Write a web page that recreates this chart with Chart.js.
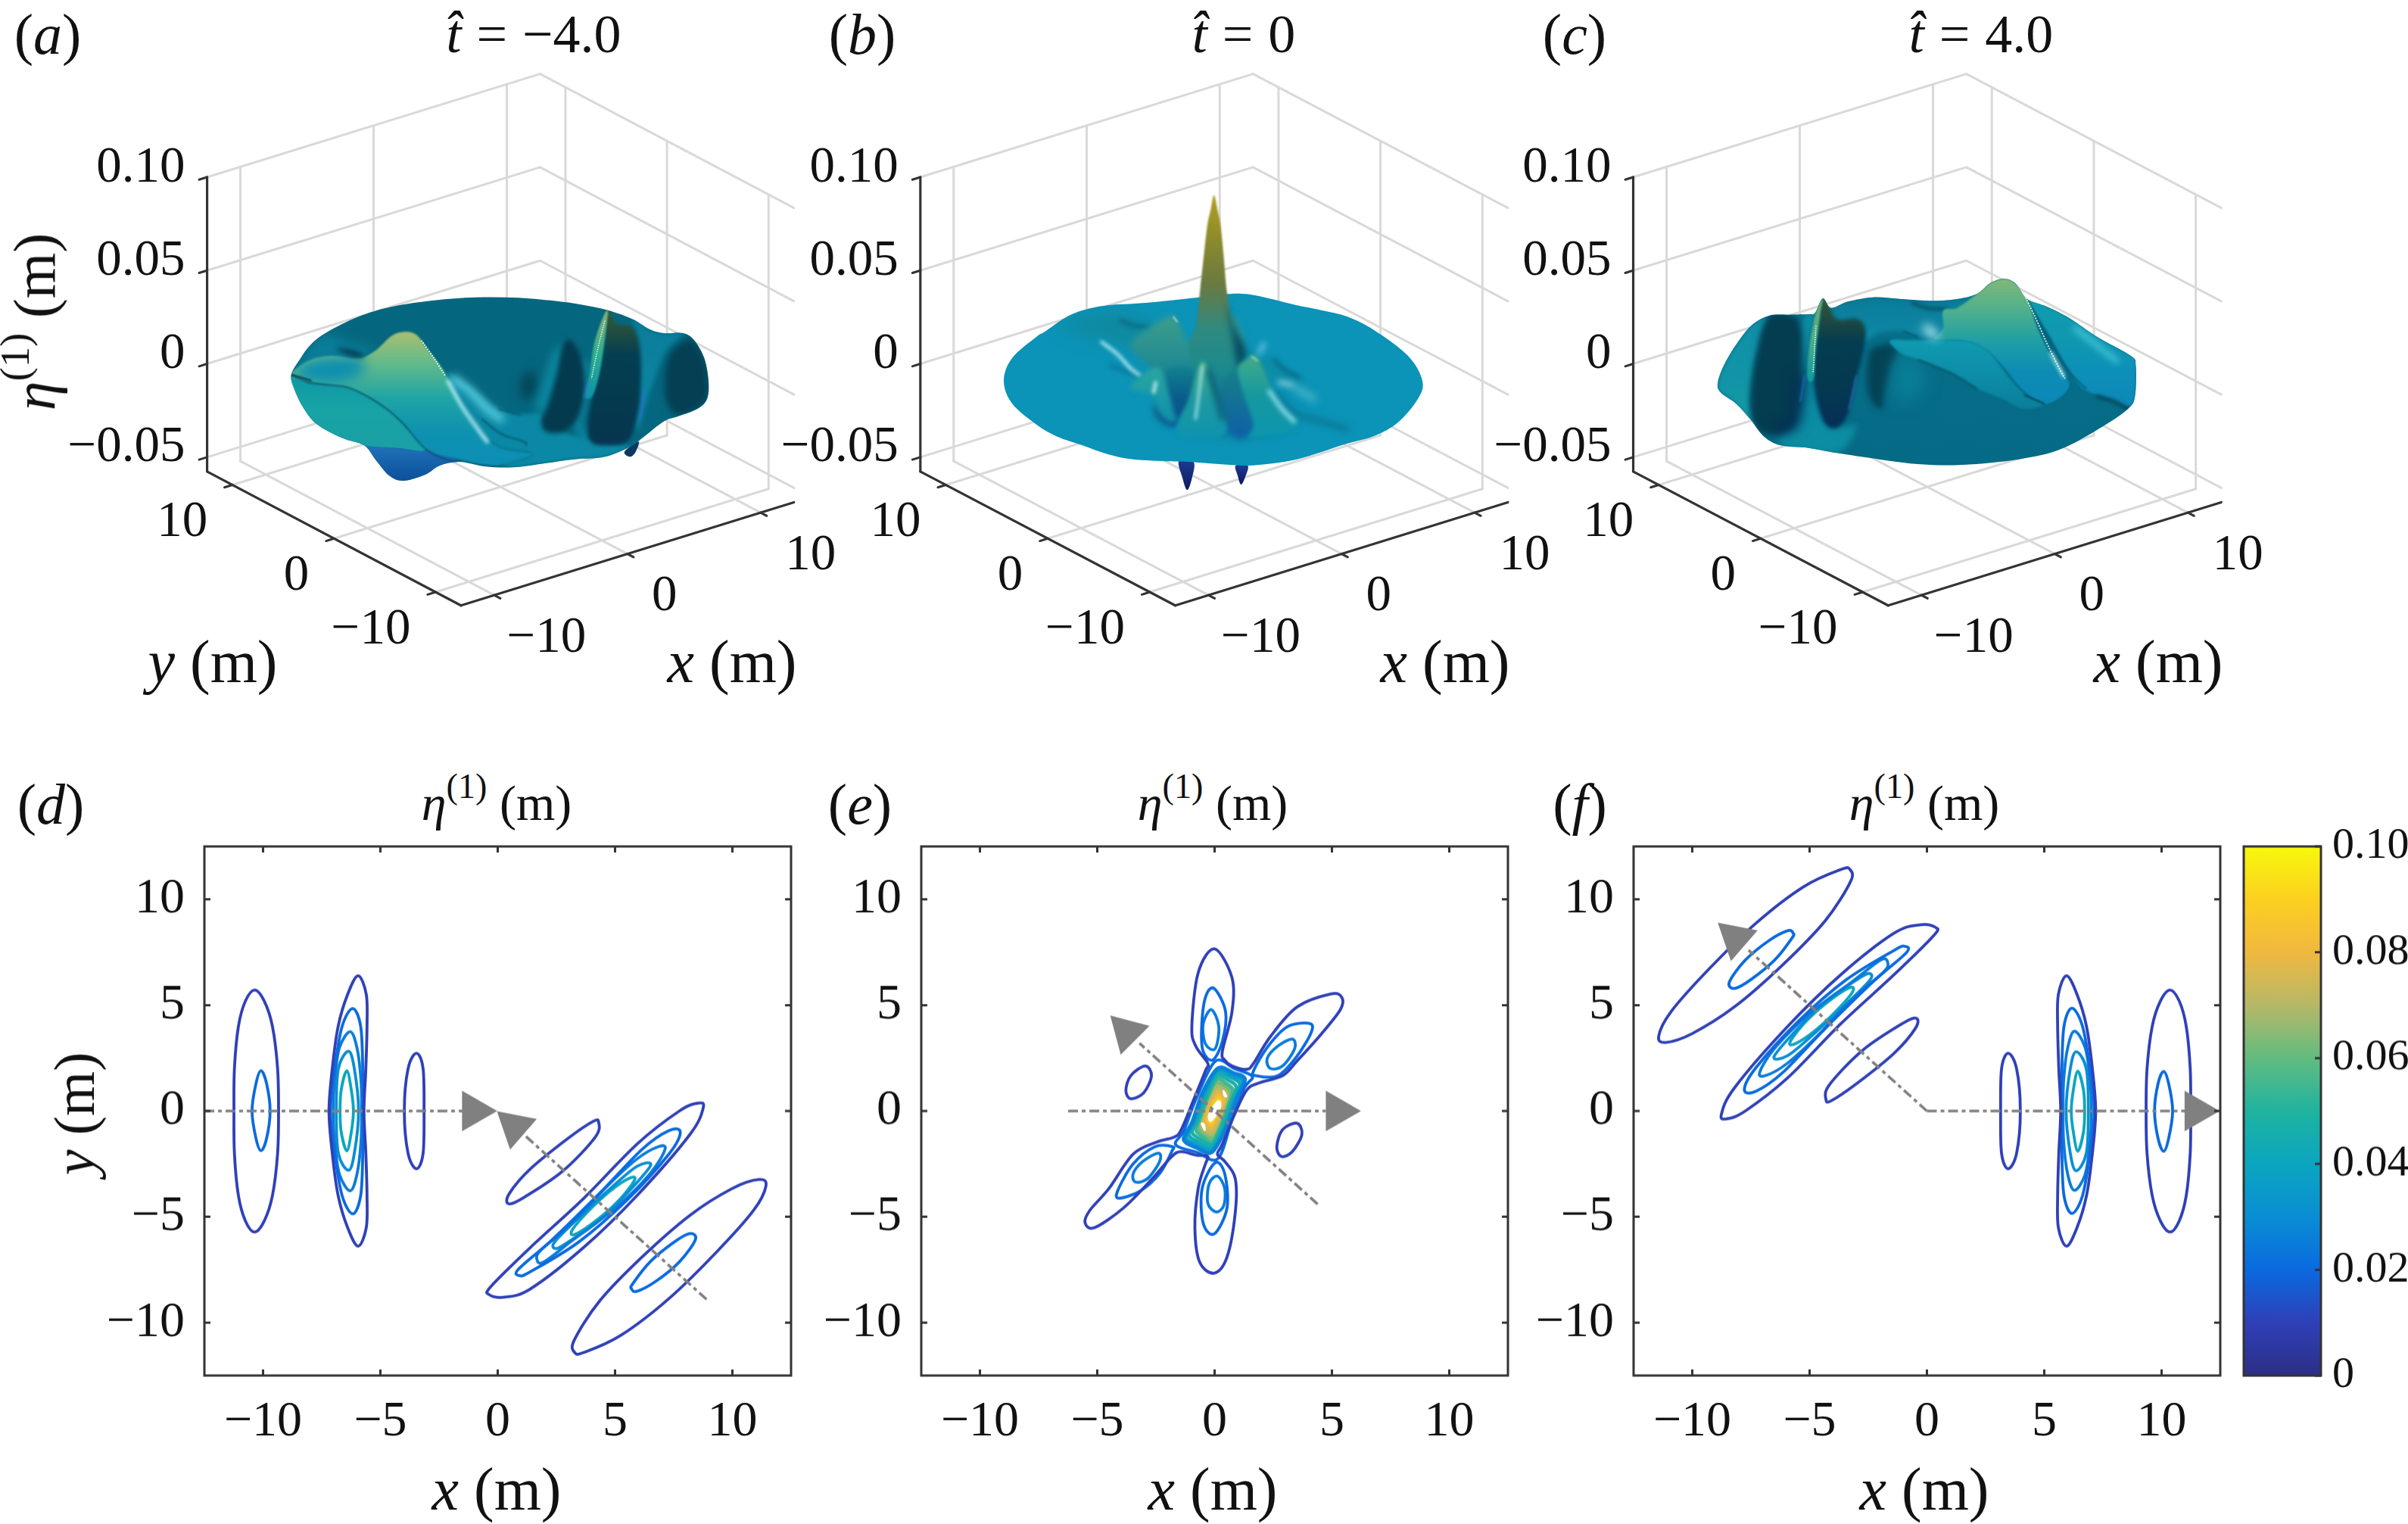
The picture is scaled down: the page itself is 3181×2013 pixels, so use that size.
<!DOCTYPE html>
<html>
<head>
<meta charset="utf-8">
<script src="https://cdn.jsdelivr.net/npm/chart.js@4"></script>
<style>
html,body{margin:0;padding:0;background:#fff;}
#page{position:relative;width:3181px;height:2013px;overflow:hidden;}
canvas{position:absolute;}
.t{position:absolute;white-space:nowrap;line-height:1;color:#111;font-family:"Liberation Serif",serif;transform:translate(-50%,-50%);}
.t sup{font-size:.7em;line-height:0;vertical-align:.62em;}
</style>
</head>
<body>
<div id="page"></div>
<script>
// ---------- axes ----------
const planTicks = [-10, -5, 0, 5, 10];
const planLimit = [-12.5, 12.5];
const boxTicksXY = [-10, 0, 10];
const boxTicksZ = [-0.05, 0, 0.05, 0.10];
const boxZLabels = ['\u22120.05', '0', '0.05', '0.10'];
const boxXYLabels = ['\u221210', '0', '10'];
const barTicks = [0, 0.02, 0.04, 0.06, 0.08, 0.10];
const barLabels = ['0', '0.02', '0.04', '0.06', '0.08', '0.10'];
const barRange = [0, 0.10];
// colour bar read every 0.01
const parula = ['#2c2f86','#2f40b8','#0a6ae0','#0a8ed4','#0aa6c0','#20b3a0','#62bc80','#b6b868','#f0b840','#fcd020','#f8f80c'];

// ---------- contours of panel d, metres ----------
const dA1 = [[-10.36,5.72],[-9.95,5.2],[-9.6,4],[-9.38,2],[-9.34,0],[-9.38,-2],[-9.6,-4],[-9.95,-5.2],[-10.36,-5.72],[-10.75,-5.2],[-11.05,-4],[-11.22,-2],[-11.24,0],[-11.22,2],[-11.05,4],[-10.75,5.2]];
const dA2 = [[-10.09,1.9],[-9.85,1.3],[-9.7,0],[-9.85,-1.3],[-10.09,-1.87],[-10.3,-1.3],[-10.47,0],[-10.3,1.3]];
const dB1 = [[-5.95,6.39],[-5.6,5.5],[-5.57,4],[-5.62,2],[-5.7,0],[-5.62,-2],[-5.57,-4],[-5.6,-5.5],[-5.95,-6.39],[-6.4,-5.5],[-6.8,-4],[-7.05,-2],[-7.19,0],[-7.05,2],[-6.8,4],[-6.4,5.5]];
const dB2 = [[-6.18,4.84],[-5.84,4],[-5.75,2],[-5.73,0],[-5.75,-2],[-5.84,-4],[-6.18,-4.86],[-6.63,-4],[-6.95,-2],[-7.13,0],[-6.95,2],[-6.63,4]];
const dB3 = [[-6.29,3.75],[-6,3],[-5.83,1.5],[-5.8,0],[-5.83,-1.5],[-6,-3],[-6.29,-3.77],[-6.74,-3],[-6.95,-1.5],[-7.01,0],[-6.95,1.5],[-6.74,3]];
const dB4 = [[-6.36,2.82],[-6.11,2],[-5.93,0],[-6.11,-2],[-6.36,-2.8],[-6.79,-2],[-6.88,0],[-6.79,2]];
const dB5 = [[-6.43,1.9],[-6.24,1],[-6.15,0],[-6.24,-1],[-6.43,-1.88],[-6.67,-1],[-6.72,0],[-6.67,1]];
const dC1 = [[-3.46,2.73],[-3.18,2],[-3.14,0],[-3.18,-2],[-3.46,-2.73],[-3.82,-2],[-3.98,0],[-3.82,2]];
const dD1 = [[4.3,-0.53],[4.16,-1.23],[2.76,-2.85],[1.06,-4.12],[0.45,-4.38],[0.5,-3.89],[1.4,-2.73],[2.99,-1.3],[4.07,-0.49]];
const dE1 = [[8.76,0.16],[8.19,-1.11],[5.93,-4],[3.67,-6.44],[1.4,-8.4],[0.27,-8.8],[-0.36,-8.68],[-0.29,-8.29],[1.4,-6.44],[3.67,-4.12],[5.93,-1.57],[7.74,0],[8.54,0.37]];
const dE2 = [[7.78,-1],[7.29,-2.04],[5.48,-4.24],[3.44,-6.2],[1.4,-7.59],[0.95,-7.78],[0.88,-7.48],[2.31,-6.09],[4.34,-3.89],[6.15,-1.81],[7.29,-0.93]];
const dE3 = [[7.13,-1.81],[6.49,-2.96],[5.02,-4.58],[3.21,-6.09],[1.97,-7.13],[1.67,-7.01],[1.86,-6.55],[3.21,-5.28],[4.57,-3.66],[5.93,-2.27],[6.83,-1.69]];
const dE4 = [[6.52,-2.55],[5.7,-3.66],[4.34,-5.16],[2.99,-6.2],[2.49,-6.5],[2.42,-6.2],[3.44,-5.05],[4.8,-3.66],[5.93,-2.62]];
const dE5 = [[5.84,-3.24],[5.25,-4.12],[4.34,-5.05],[3.33,-5.81],[3.17,-5.63],[3.89,-4.7],[4.8,-3.77],[5.59,-3.19]];
const dF1 = [[11.43,-3.54],[10.9,-4.7],[9.32,-6.67],[7.29,-8.87],[5.25,-10.6],[3.67,-11.41],[3.28,-11.41],[3.26,-10.83],[4.34,-8.98],[6.15,-6.9],[8.19,-4.93],[10,-3.66],[11.13,-3.24]];
const dF2 = [[8.42,-6.09],[7.74,-7.13],[6.72,-8.06],[5.93,-8.52],[5.7,-8.4],[5.75,-8.17],[6.49,-7.13],[7.51,-6.2],[8.19,-5.79]];

// ---------- contours of panel f, metres ----------
const fA1 = [[10.36,-5.72],[9.95,-5.2],[9.6,-4],[9.38,-2],[9.34,0],[9.38,2],[9.6,4],[9.95,5.2],[10.36,5.72],[10.75,5.2],[11.05,4],[11.22,2],[11.24,0],[11.22,-2],[11.05,-4],[10.75,-5.2]];
const fA2 = [[10.09,-1.9],[9.85,-1.3],[9.7,0],[9.85,1.3],[10.09,1.87],[10.3,1.3],[10.47,0],[10.3,-1.3]];
const fB1 = [[5.95,-6.39],[5.6,-5.5],[5.57,-4],[5.62,-2],[5.7,0],[5.62,2],[5.57,4],[5.6,5.5],[5.95,6.39],[6.4,5.5],[6.8,4],[7.05,2],[7.19,0],[7.05,-2],[6.8,-4],[6.4,-5.5]];
const fB2 = [[6.18,-4.84],[5.84,-4],[5.75,-2],[5.73,0],[5.75,2],[5.84,4],[6.18,4.86],[6.63,4],[6.95,2],[7.13,0],[6.95,-2],[6.63,-4]];
const fB3 = [[6.29,-3.75],[6,-3],[5.83,-1.5],[5.8,0],[5.83,1.5],[6,3],[6.29,3.77],[6.74,3],[6.95,1.5],[7.01,0],[6.95,-1.5],[6.74,-3]];
const fB4 = [[6.36,-2.82],[6.11,-2],[5.93,0],[6.11,2],[6.36,2.8],[6.79,2],[6.88,0],[6.79,-2]];
const fB5 = [[6.43,-1.9],[6.24,-1],[6.15,0],[6.24,1],[6.43,1.88],[6.67,1],[6.72,0],[6.67,-1]];
const fC1 = [[3.46,-2.73],[3.18,-2],[3.14,0],[3.18,2],[3.46,2.73],[3.82,2],[3.98,0],[3.82,-2]];
const fD1 = [[-4.3,0.53],[-4.16,1.23],[-2.76,2.85],[-1.06,4.12],[-0.45,4.38],[-0.5,3.89],[-1.4,2.73],[-2.99,1.3],[-4.07,0.49]];
const fE1 = [[-8.76,-0.16],[-8.19,1.11],[-5.93,4],[-3.67,6.44],[-1.4,8.4],[-0.27,8.8],[0.36,8.68],[0.29,8.29],[-1.4,6.44],[-3.67,4.12],[-5.93,1.57],[-7.74,0],[-8.54,-0.37]];
const fE2 = [[-7.78,1],[-7.29,2.04],[-5.48,4.24],[-3.44,6.2],[-1.4,7.59],[-0.95,7.78],[-0.88,7.48],[-2.31,6.09],[-4.34,3.89],[-6.15,1.81],[-7.29,0.93]];
const fE3 = [[-7.13,1.81],[-6.49,2.96],[-5.02,4.58],[-3.21,6.09],[-1.97,7.13],[-1.67,7.01],[-1.86,6.55],[-3.21,5.28],[-4.57,3.66],[-5.93,2.27],[-6.83,1.69]];
const fE4 = [[-6.52,2.55],[-5.7,3.66],[-4.34,5.16],[-2.99,6.2],[-2.49,6.5],[-2.42,6.2],[-3.44,5.05],[-4.8,3.66],[-5.93,2.62]];
const fE5 = [[-5.84,3.24],[-5.25,4.12],[-4.34,5.05],[-3.33,5.81],[-3.17,5.63],[-3.89,4.7],[-4.8,3.77],[-5.59,3.19]];
const fF1 = [[-11.43,3.54],[-10.9,4.7],[-9.32,6.67],[-7.29,8.87],[-5.25,10.6],[-3.67,11.41],[-3.28,11.41],[-3.26,10.83],[-4.34,8.98],[-6.15,6.9],[-8.19,4.93],[-10,3.66],[-11.13,3.24]];
const fF2 = [[-8.42,6.09],[-7.74,7.13],[-6.72,8.06],[-5.93,8.52],[-5.7,8.4],[-5.75,8.17],[-6.49,7.13],[-7.51,6.2],[-8.19,5.79]];

// ---------- contours of panel e, metres ----------
const eOuter = [[0,7.66],[0.74,6.3],[0.74,4.68],[0.33,2.82],[0.43,2.41],[0.74,2.13],[1.36,1.97],[1.66,2.25],[2.38,3.52],[3.51,4.91],[4.95,5.53],[5.42,5.37],[5.36,4.79],[4.54,3.63],[3.51,2.36],[2.9,1.67],[1.87,1.32],[1.36,0.97],[0.84,-0.19],[0.33,-1.57],[0.12,-2.04],[0.43,-2.38],[0.88,-3.19],[0.88,-4.81],[0.53,-6.9],[-0.02,-7.66],[-0.64,-7.13],[-0.84,-5.51],[-0.7,-3.66],[-0.39,-2.5],[-0.29,-2.15],[-0.8,-2.08],[-1.42,-1.92],[-1.83,-2.15],[-2.65,-3.19],[-3.88,-4.58],[-5.11,-5.51],[-5.52,-5.28],[-5.32,-4.7],[-4.5,-3.66],[-3.47,-2.04],[-2.44,-1.46],[-1.72,-1.23],[-1.42,-0.88],[-0.9,0.51],[-0.39,1.9],[-0.29,2.25],[-0.8,3.06],[-0.97,3.98],[-0.7,6.53]];
const eSmallL = [[-2.96,2.13],[-2.69,1.67],[-3.02,0.86],[-3.57,0.58],[-3.78,0.97],[-3.57,1.67]];
const eSmallR = [[3.51,-0.58],[3.72,-1.11],[3.31,-1.92],[2.85,-2.15],[2.65,-1.69],[2.9,-0.88]];
const eTop2 = [[-0.02,5.79],[0.47,4.68],[0.33,3.29],[-0.08,2.41],[-0.49,2.82],[-0.55,3.98],[-0.39,5.37]];
const eUR2 = [[4.02,4.14],[4.13,3.75],[3.51,2.59],[2.69,1.67],[1.77,1.67],[1.66,1.9],[2.28,3.06],[3.1,3.98]];
const eBot2 = [[-0.02,-5.81],[-0.49,-5.28],[-0.53,-3.66],[0.02,-2.45],[0.43,-2.96],[0.53,-4.58]];
const eLL2 = [[-4.05,-4.12],[-4.13,-3.77],[-3.47,-2.5],[-2.55,-1.69],[-1.79,-1.69],[-1.83,-1.92],[-2.34,-2.96],[-3.16,-3.77]];
const eTop3 = [[-0.14,4.79],[0.18,3.98],[0.02,2.94],[-0.39,3.17],[-0.49,4.1]];
const eUR3 = [[3.31,3.4],[3.41,2.94],[2.9,2.13],[2.38,2.01],[2.24,2.48],[2.69,3.06]];
const eBot3 = [[0.06,-4.77],[-0.29,-4.35],[-0.23,-3.43],[0.12,-3.08],[0.43,-3.66],[0.39,-4.47]];
const eLL3 = [[-2.4,-1.99],[-2.34,-2.38],[-2.85,-3.19],[-3.37,-3.36],[-3.47,-2.96],[-3.06,-2.38]];
const eCore020 = [[0.03,2.35],[0.85,2],[1.61,1.63],[1.27,1.09],[0.73,-0.46],[0.14,-2.25],[-0.75,-1.95],[-1.66,-1.59],[-1.31,-0.93],[-0.77,0.62]];
const eCore030 = [[0.14,2.02],[0.8,1.8],[1.3,1.5],[0.95,0.6],[0.5,-0.8],[-0.12,-1.95],[-0.75,-1.75],[-1.32,-1.35],[-0.95,-0.5],[-0.5,0.9]];
const eCore035 = [[0.12,1.92],[0.75,1.7],[1.2,1.38],[0.88,0.55],[0.44,-0.8],[-0.1,-1.85],[-0.7,-1.65],[-1.22,-1.25],[-0.88,-0.5],[-0.44,0.85]];
const eCore040 = [[0.1,1.8],[0.68,1.6],[1.08,1.25],[0.8,0.5],[0.38,-0.8],[-0.1,-1.72],[-0.62,-1.52],[-1.1,-1.12],[-0.8,-0.45],[-0.4,0.8]];
const eCore045 = [[0.1,1.65],[0.6,1.45],[0.93,1.12],[0.71,0.45],[0.3,-0.8],[-0.1,-1.58],[-0.55,-1.38],[-0.96,-1],[-0.7,-0.4],[-0.33,0.72]];
const eCore050 = [[0.1,1.5],[0.5,1.3],[0.78,1],[0.63,0.42],[0.26,-0.72],[-0.1,-1.45],[-0.48,-1.25],[-0.8,-0.9],[-0.62,-0.36],[-0.27,0.7]];
const eCore055 = [[0.11,1.35],[0.68,0.92],[0.56,0.1],[0.2,-0.85],[-0.1,-1.32],[-0.7,-0.85],[-0.56,0],[-0.2,0.9]];
const eCore060 = [[0.12,1.2],[0.62,0.85],[0.52,0.1],[0.2,-0.75],[-0.1,-1.2],[-0.62,-0.8],[-0.52,0],[-0.2,0.8]];
const eCore065 = [[0.12,1.07],[0.53,0.75],[0.46,0.1],[0.18,-0.65],[-0.12,-1.05],[-0.55,-0.7],[-0.46,0],[-0.18,0.7]];
const eCore070 = [[0.13,0.95],[0.47,0.65],[0.4,0.1],[0.14,-0.55],[-0.13,-0.92],[-0.47,-0.6],[-0.4,0],[-0.14,0.6]];
const eCore075 = [[0.14,0.82],[0.42,0.55],[0.36,0.1],[0.12,-0.47],[-0.14,-0.8],[-0.42,-0.52],[-0.36,-0.02],[-0.12,0.5]];
const eCore080 = [[0.15,0.72],[0.38,0.47],[0.3,0.1],[0.1,-0.4],[-0.15,-0.7],[-0.36,-0.45],[-0.3,-0.03],[-0.1,0.42]];
const eCore085 = [[0.16,0.6],[0.32,0.38],[0.24,0.1],[0.07,-0.32],[-0.16,-0.58],[-0.3,-0.36],[-0.24,-0.03],[-0.07,0.34]];
const eCore090 = [[0.17,0.42],[0.2,0.2],[0.03,-0.15],[-0.16,-0.42],[-0.2,-0.2],[-0.03,0.15]];
const eSpark1 = [[0.38,0.95],[0.5,0.7],[0.42,0.72]];
const eSpark2 = [[-0.42,-0.9],[-0.55,-0.6],[-0.45,-0.65]];

// line, level
const contoursD = [[dA1,0.01],[dA2,0.02],[dB1,0.01],[dB2,0.02],[dB3,0.025],[dB4,0.03],[dB5,0.04],[dC1,0.01],[dD1,0.01],[dE1,0.01],[dE2,0.02],[dE3,0.025],[dE4,0.03],[dE5,0.04],[dF1,0.01],[dF2,0.02]];
const contoursF = [[fA1,0.01],[fA2,0.02],[fB1,0.01],[fB2,0.02],[fB3,0.025],[fB4,0.03],[fB5,0.04],[fC1,0.01],[fD1,0.01],[fE1,0.01],[fE2,0.02],[fE3,0.025],[fE4,0.03],[fE5,0.04],[fF1,0.01],[fF2,0.02]];
const contoursE = [[eOuter,0.01],[eSmallL,0.01],[eSmallR,0.01],[eTop2,0.02],[eUR2,0.02],[eBot2,0.02],[eLL2,0.02],[eTop3,0.025],[eUR3,0.025],[eBot3,0.025],[eLL3,0.025],[eCore020,0.02],[eCore030,0.026],[eCore035,0.034],[eCore040,0.042],[eCore045,0.048],[eCore050,0.055],[eCore055,0.062],[eCore060,0.068],[eCore065,0.072],[eCore070,0.076],[eCore075,0.08],[eCore080,0.085],[eCore085,0.09]];
const coreLines = [eCore030,eCore035,eCore040,eCore045,eCore050,eCore055,eCore060,eCore065,eCore070,eCore075,eCore080,eCore085];
const sparkLines = [eCore090,eSpark1,eSpark2];

// ---------- group directions, metres ----------
const dGuideH = [[-12.5,0],[-1.5,0]];
const dGuideD = [[8.9,-8.9],[1.0,-1.0]];
const eGuideH = [[-6.24,0],[4.74,0]];
const eGuideD = [[4.39,-4.4],[-3.2,3.2]];
const fGuideH = [[0,0],[11,0]];
const fGuideD = [[0,0],[-7.6,7.6]];
const dHeads = [[-1.02,0],[0.72,-0.74]];
const eHeads = [[5.24,0],[-3.74,3.73]];
const fHeads = [[11.48,0],[-8.16,8.17]];

// ---------- surface outlines, on the hidden picture-plane scales of each 3D box ----------
const aRim = [[40,345],[70,285],[110,225],[170,175],[280,115],[400,75],[550,50],[700,38],[850,40],[1000,55],[1100,72],[1180,92],[1260,125],[1320,165],[1370,180],[1440,180],[1480,210],[1515,280],[1530,370],[1525,440],[1490,480],[1420,510],[1370,530],[1300,590],[1250,630],[1160,670],[1050,680],[950,695],[830,712],[730,708],[640,690],[570,705],[520,740],[440,765],[390,745],[340,680],[300,625],[220,595],[130,540],[80,470],[50,400]];
const aLump = [[300,625],[420,635],[560,650],[640,690],[570,705],[520,740],[440,765],[390,745],[340,680]];
const aHang = [[1230,650],[1280,610],[1270,650],[1250,670]];
const aSkirt = [[40,345],[100,375],[170,385],[240,395],[310,430],[380,480],[440,540],[520,640],[420,635],[300,625],[220,595],[130,540],[80,470],[50,400]];
const aCrease = [[40,345],[100,375],[170,385],[240,395],[310,430],[380,480],[440,540],[520,640],[590,680],[640,690]];
const aCreaseTip = [[40,345],[110,368]];
const aCrest = [[40,345],[100,290],[180,270],[280,280],[340,250],[400,190],[450,175],[490,190],[530,250],[580,320],[620,400],[680,520],[740,600],[800,640],[900,660],[800,700],[730,700],[640,680],[520,640],[440,540],[380,480],[310,430],[240,395],[170,385],[100,375]];
const aCrestLeft = [[50,340],[110,290],[200,275],[290,285],[290,340],[200,375],[100,365]];
const aBackLeft = [[70,285],[110,225],[170,185],[230,215],[330,240],[340,250],[280,280],[180,270],[100,290]];
const aDent = [[200,240],[250,270],[300,275],[270,250]];
const aValley = [[600,340],[650,370],[720,430],[780,480],[850,500],[930,500],[940,540],[1000,570],[1100,600],[1200,620],[1250,630],[1160,670],[1050,680],[950,695],[830,712],[800,700],[900,660],[800,640],[740,600],[680,520],[620,400]];
const aGlow = [[620,360],[680,410],[740,480],[790,520]];
const aFold1 = [[720,520],[790,580],[870,610],[880,625]];
const aFold2 = [[780,480],[860,505]];
const aRidgeTop = [[505,210],[550,280],[590,350]];
const aRidgeLow = [[600,370],[650,470],[700,550],[740,610]];
const aGroove = [[885,330],[915,360],[900,430],[870,440],[860,390]];
const aPitEdge = [[1000,250],[970,340],[930,480]];
const aPitA = [[1030,205],[1065,250],[1085,340],[1085,430],[1060,520],[1010,570],[950,570],[935,530],[960,460],[990,340],[1005,250]];
const aColumn = [[1090,300],[1085,430],[1065,540],[1090,600]];
const aSpikeDark = [[1170,90],[1192,130],[1205,145],[1260,160],[1285,250],[1285,420],[1270,530],[1240,610],[1160,625],[1110,610],[1100,540],[1115,430],[1140,340],[1160,200]];
const aSpikeLit = [[1170,90],[1145,140],[1120,230],[1105,340],[1090,430],[1115,430],[1140,340],[1160,200]];
const aSpikeEdge = [[1160,130],[1135,240],[1112,360]];
const aBlue1 = [[1098,370],[1085,440]];
const aGap = [[1260,125],[1320,165],[1370,180],[1440,180],[1400,225],[1370,270],[1340,350],[1300,480],[1280,560],[1270,530],[1285,420],[1285,250]];
const aBlue2 = [[1300,400],[1285,520]];
const aPitB = [[1465,200],[1400,250],[1375,340],[1380,450],[1420,505],[1490,480],[1525,440],[1530,370],[1515,280],[1480,210]];

const bRim = [[-162,369],[-129,279],[-33,195],[0,175],[80,120],[150,90],[250,70],[400,60],[610,38],[720,25],[800,25],[900,45],[1000,70],[1100,90],[1200,115],[1305,168],[1440,270],[1497,369],[1479,441],[1401,533],[1305,588],[1190,620],[1100,650],[1000,680],[900,697],[800,705],[700,700],[600,692],[500,688],[350,680],[250,660],[150,625],[50,590],[-33,542],[-129,459]];
const bDropL = [[532,686],[590,690],[585,750],[565,802],[545,750]];
const bDropR = [[757,705],[805,705],[795,750],[778,780],[765,745]];
const bLeftTone = [[80,130],[300,100],[430,150],[380,230],[250,210],[100,170]];
const bGrooveBack = [[300,130],[350,150],[410,155]];
const bMid = [[340,230],[430,150],[490,115],[515,115],[545,170],[570,225],[600,200],[730,105],[790,215],[770,320],[800,290],[835,270],[870,320],[910,440],[960,500],[1000,545],[900,590],[780,600],[650,590],[530,530],[470,540],[430,490],[450,420],[430,330]];
const bSpike = [[671,-367],[685,-310],[697,-249],[710,-120],[720,0],[735,100],[750,210],[770,320],[720,340],[650,335],[590,300],[570,225],[600,150],[617,0],[630,-120],[645,-249],[658,-310]];
const bHollow = [[720,60],[735,105],[760,170],[800,250],[790,290],[770,320],[755,270],[745,200]];
const bValley1 = [[475,335],[600,330],[585,420],[540,525],[500,550],[445,510],[440,470],[490,480],[505,495]];
const bBump1 = [[385,345],[430,320],[455,318],[470,345],[485,400],[510,490],[525,525],[490,530],[450,490],[430,430],[340,400]];
const bValley2 = [[690,400],[740,330],[770,330],[790,420],[830,540],[800,590],[765,598],[725,570],[705,500]];
const bBump2 = [[625,290],[645,320],[665,400],[690,470],[720,560],[660,600],[540,590],[530,530],[570,450],[600,340]];
const bFlank = [[650,330],[680,430],[705,520]];
const bBump3 = [[765,322],[800,285],[825,268],[850,285],[880,350],[920,440],[1000,540],[950,580],[860,590],[810,590],[830,540],[790,420]];
const bSwirl = [[860,290],[885,270],[910,285],[960,330],[1060,400],[1080,450],[1000,420],[930,390],[890,340]];
const bSwirlTop = [[910,285],[950,325],[1010,355]];
const bSwirlLow = [[920,420],[1000,500],[1100,530],[1200,560]];
const bGlow1 = [[930,375],[980,385]];
const bGlow2 = [[990,395],[1070,440]];
const bGlow3 = [[850,260],[870,220]];
const bShadowL = [[260,310],[320,330],[375,345]];
const bLight1 = [[225,215],[290,265],[340,320],[375,345]];
const bLight2 = [[440,375],[432,415]];
const bLight3 = [[625,310],[610,430],[598,520]];
const bLight4 = [[890,410],[940,480],[990,530]];
const bLight5 = [[510,115],[525,135]];
const bLight6 = [[820,272],[845,290]];

const cRim = [[25,465],[50,390],[100,300],[150,235],[210,200],[280,197],[350,195],[372,190],[400,132],[430,170],[490,145],[580,128],[680,135],[790,142],[880,135],[950,115],[1000,70],[1050,55],[1090,75],[1130,135],[1200,165],[1280,210],[1380,285],[1500,360],[1518,400],[1515,520],[1490,570],[1400,640],[1250,730],[1100,770],[900,792],[750,790],[600,770],[450,745],[350,725],[250,715],[190,680],[140,610],[90,550],[35,505]];
const cSkirt = [[25,465],[50,390],[100,300],[150,235],[205,205],[180,280],[150,420],[140,560],[165,650],[90,550],[35,505]];
const cBetween = [[320,240],[372,190],[345,340],[330,480],[300,620],[270,655],[250,715],[450,745],[520,640],[480,640],[420,640],[380,560],[360,450],[340,450]];
const cPitL = [[205,205],[280,197],[320,240],[325,400],[305,600],[270,655],[195,670],[150,620],[145,500],[165,350]];
const cPitLow = [[320,450],[300,620],[240,650]];
const cBlue1 = [[335,440],[320,540]];
const cBackBand = [[430,170],[490,145],[580,128],[680,135],[790,142],[880,135],[950,115],[940,180],[850,290],[740,285],[680,260],[600,270],[550,300],[550,250],[520,215],[460,220]];
const cBackFold = [[720,150],[770,170],[840,175]];
const cMidFold = [[690,265],[740,285]];
const cPitM = [[400,132],[420,160],[435,200],[460,220],[520,215],[550,250],[545,340],[515,470],[490,590],[450,645],[410,630],[385,560],[368,450],[375,330],[390,200]];
const cSpikeLit = [[400,132],[380,170],[365,240],[350,340],[345,450],[368,450],[375,330],[390,200]];
const cSpikeEdge = [[376,240],[370,340],[365,430]];
const cBlue2 = [[520,440],[495,570]];
const cPitR = [[565,350],[600,320],[650,315],[665,345],[640,420],[620,510],[610,570],[580,550],[558,480]];
const cLower = [[670,370],[740,380],[760,480],[700,540],[660,520]];
const cCrest = [[830,180],[880,170],[950,115],[1000,70],[1050,55],[1090,75],[1130,135],[1170,260],[1230,390],[1280,480],[1200,550],[1120,500],[1050,410],[1000,350],[940,310],[880,298],[800,295],[830,250]];
const cFold = [[640,300],[720,298],[880,298],[940,310],[1000,350],[1060,440],[1120,510],[1190,550],[1120,570],[1040,530],[950,490],[860,430],[740,375],[680,350]];
const cFoldLine = [[740,375],[860,430],[950,490]];
const cFoldEnd = [[1120,515],[1190,550]];
const cSide = [[1130,135],[1200,165],[1280,210],[1380,285],[1500,360],[1518,400],[1515,520],[1490,560],[1420,530],[1330,490],[1270,400],[1210,280],[1170,210]];
const cSideGlow = [[1300,250],[1380,320],[1450,380]];
const cSideEdge = [[1130,135],[1190,260],[1270,410],[1340,490]];
const cSideLow = [[1380,520],[1440,540],[1490,570]];
const cGlow = [[770,250],[800,280]];
const cRidge = [[1120,120],[1160,210],[1200,310],[1240,400],[1265,450]];
const cRidgeGlow = [[1215,350],[1260,440]];

// paint order and shading of every outline
const layersA = [
  {pts:aHang,c:['#0a3a60'],clip:false},
  {pts:aRim,c:['#05677f'],base:true},
  {pts:aLump,c:['#1f74b8','#0e4f9c'],blur:1},
  {pts:aSkirt,c:['#0f9aa5','#18a3a5','#1a9fa5']},
  {pts:aBackLeft,c:['#0b7f9a'],blur:10},
  {pts:aCrest,c:['#a8c070','#5fb98c','#1fa5a5','#0e92b0','#0d8fb5'],blur:1},
  {pts:aCrestLeft,c:['#0f8fb0'],blur:10},
  {pts:aDent,c:['#063f52'],blur:4},
  {pts:aCrease,line:'#08475c',w:4,blur:1},
  {pts:aCreaseTip,line:'#062f3f',w:6,blur:1},
  {pts:aValley,c:['#0b88a5'],blur:3},
  {pts:aGlow,line:'#6fe0ee',w:18,blur:7},
  {pts:aFold1,line:'#064a5f',w:5,blur:2},
  {pts:aFold2,line:'#06495e',w:4,blur:2},
  {pts:aRidgeLow,line:'#baf4fa',w:10,blur:3},
  {pts:aRidgeTop,line:'#f2fbe8',w:6,dash:[5,5]},
  {pts:aGroove,c:['#053f52'],blur:9},
  {pts:aPitEdge,line:'#0e92aa',w:26,blur:8},
  {pts:aColumn,line:'#0c88a0',w:20,blur:6},
  {pts:aPitA,c:['#043a4e'],blur:4},
  {pts:aGap,c:['#0b7d9a','#0c88a5'],blur:4},
  {pts:aBlue2,line:'#2a70d8',w:7,blur:2},
  {pts:aSpikeDark,c:['#3a5a30','#043e52','#043a4e','#063550'],blur:3},
  {pts:aSpikeLit,c:['#8fb27a','#2fae8f','#0f93a8'],blur:1},
  {pts:aSpikeEdge,line:'#f2fbe8',w:4,dash:[5,4]},
  {pts:aBlue1,line:'#2f6ed0',w:5,blur:2},
  {pts:aPitB,c:['#043f53'],blur:5},
];
const layersB = [
  {pts:bDropL,c:['#1a3a90','#101a60'],clip:false},
  {pts:bDropR,c:['#1a3a90','#101a60'],clip:false},
  {pts:bRim,c:['#0b93b8'],base:true},
  {pts:bLeftTone,c:['#0f8a9f'],blur:14},
  {pts:bGrooveBack,line:'#075e78',w:8,blur:4},
  {pts:bMid,c:['#3f9f8a','#1a8595','#0a8aa5'],blur:5},
  {pts:bSpike,c:['#b0a020','#8c8a2c','#6a7a40','#2f8a80','#1a8a90'],clip:false,blur:1},
  {pts:bHollow,c:['#064e62'],blur:5,clip:false},
  {pts:bValley1,c:['#0e7d90','#0b5a8a','#0c4f8c'],blur:5},
  {pts:bBump1,c:['#2aa7a0','#0f8fab'],blur:4},
  {pts:bValley2,c:['#167f88','#0e5fa8'],blur:5},
  {pts:bBump2,c:['#4ab088','#1d9aa0','#0e93b0'],blur:3},
  {pts:bFlank,line:'#0a5a70',w:14,blur:5},
  {pts:bBump3,c:['#44ab88','#1598a0','#0e95b0'],blur:3},
  {pts:bSwirl,c:['#0c8ca8'],blur:4},
  {pts:bSwirlTop,line:'#075e78',w:8,blur:4},
  {pts:bSwirlLow,line:'#0a6f88',w:12,blur:6},
  {pts:bGlow2,line:'#5fcfe4',w:14,blur:7},
  {pts:bGlow1,line:'#bff2f8',w:10,blur:5},
  {pts:bGlow3,line:'#9ce6f4',w:8,blur:5},
  {pts:bShadowL,line:'#07627a',w:6,blur:4},
  {pts:bLight1,line:'#c8f6fb',w:8,blur:3},
  {pts:bLight2,line:'#e0fbff',w:8,blur:3},
  {pts:bLight3,line:'#c8f6fb',w:6,blur:3},
  {pts:bLight4,line:'#a8f0f8',w:10,blur:4},
  {pts:bLight5,line:'#e8fbf4',w:4,blur:1},
  {pts:bLight6,line:'#d0f0e0',w:4,blur:2},
];
const layersC = [
  {pts:cRim,c:['#07708a','#056a85'],base:true},
  {pts:cSkirt,c:['#0f8ea8','#159aa5'],blur:3},
  {pts:cBetween,c:['#0c8da3'],blur:5},
  {pts:cPitL,c:['#043c50'],blur:5},
  {pts:cPitLow,line:'#042f55',w:30,blur:10},
  {pts:cBlue1,line:'#2f6ed0',w:5,blur:2},
  {pts:cBackBand,c:['#0b7a96','#0d8aa8'],blur:4},
  {pts:cBackFold,line:'#05485c',w:8,blur:3},
  {pts:cPitM,c:['#3a5530','#043c50','#043a50','#052f58'],blur:3},
  {pts:cSpikeLit,c:['#6fa86a','#4fb088','#129a9f'],blur:1},
  {pts:cSpikeEdge,line:'#f2fbe8',w:4,dash:[5,4]},
  {pts:cBlue2,line:'#2f6ed0',w:5,blur:2},
  {pts:cPitR,c:['#044355'],blur:5},
  {pts:cLower,c:['#0a7f98'],blur:14},
  {pts:cSide,c:['#0f9cae','#0f98b0','#0d90b8','#0c88b8'],blur:2},
  {pts:cSideGlow,line:'#55d4e4',w:12,blur:6},
  {pts:cSideLow,line:'#05384a',w:8,blur:3},
  {pts:cSideEdge,line:'#06506a',w:5,blur:2},
  {pts:cCrest,c:['#82b878','#4fb08c','#1f9fa5','#0c8cb5','#0c88b8'],blur:1},
  {pts:cFold,c:['#0f9ab0','#0d8da8','#0a7f9a'],blur:2},
  {pts:cFoldLine,line:'#05485c',w:5,blur:2},
  {pts:cFoldEnd,line:'#05384a',w:5,blur:1},
  {pts:cMidFold,line:'#064a5f',w:5,blur:2},
  {pts:cGlow,line:'#d8fbff',w:20,blur:8},
  {pts:cRidgeGlow,line:'#c0f6fa',w:8,blur:3},
  {pts:cRidge,line:'#f2fbe8',w:5,dash:[6,5]},
];

// ---------- helpers ----------
const SERIF = '"Liberation Serif", serif';
const page = document.getElementById('page');
const asPoints = list => list.map(p => ({x: p[0], y: p[1]}));

function mkCanvas(left, top, w, h) {
  const c = document.createElement('canvas');
  c.width = w; c.height = h;
  c.style.left = left + 'px'; c.style.top = top + 'px';
  c.style.width = w + 'px'; c.style.height = h + 'px';
  page.appendChild(c);
  return c;
}
function addText(html, x, y, size, rot) {
  const d = document.createElement('div');
  d.className = 't';
  d.innerHTML = html;
  d.style.left = x + 'px'; d.style.top = y + 'px';
  d.style.fontSize = size + 'px';
  if (rot) d.style.transform = 'translate(-50%,-50%) rotate(' + rot + 'deg)';
  page.appendChild(d);
}
function hexMix(a, b, f) {
  const n = h => [1, 3, 5].map(i => parseInt(h.slice(i, i + 2), 16));
  const A = n(a), B = n(b);
  return 'rgb(' + A.map((v, i) => Math.round(v + (B[i] - v) * f)).join(',') + ')';
}
function levelColor(v) {
  const k = Math.min(v / 0.10, 0.9999) * (parula.length - 1);
  const i = Math.floor(k);
  return hexMix(parula[i], parula[i + 1], k - i);
}
// closed or open smooth path through the pixel positions of a dataset
function smoothPath(p, closed) {
  const path = new Path2D();
  const n = p.length;
  const at = i => closed ? p[(i + n) % n] : p[Math.max(0, Math.min(n - 1, i))];
  path.moveTo(p[0].x, p[0].y);
  const last = closed ? n : n - 1;
  for (let i = 0; i < last; i++) {
    const a = at(i - 1), b = at(i), c = at(i + 1), d = at(i + 2);
    path.bezierCurveTo(b.x + (c.x - a.x) / 6, b.y + (c.y - a.y) / 6, c.x - (d.x - b.x) / 6, c.y - (d.y - b.y) / 6, c.x, c.y);
  }
  if (closed) path.closePath();
  return path;
}

// frame and inward ticks of the flat panels
const framePlugin = {
  id: 'frame',
  afterDatasetsDraw(chart) {
    const {ctx, chartArea: a, scales} = chart;
    ctx.save();
    ctx.strokeStyle = '#333';
    ctx.lineWidth = 3;
    ctx.strokeRect(a.left, a.top, a.right - a.left, a.bottom - a.top);
    const len = 8;
    ctx.beginPath();
    if (scales.x.options.display) {
      for (const t of scales.x.ticks) {
        const px = scales.x.getPixelForValue(t.value);
        ctx.moveTo(px, a.bottom); ctx.lineTo(px, a.bottom - len);
        ctx.moveTo(px, a.top); ctx.lineTo(px, a.top + len);
      }
    }
    for (const t of scales.y.ticks) {
      const py = scales.y.getPixelForValue(t.value);
      if (scales.x.options.display) { ctx.moveTo(a.left, py); ctx.lineTo(a.left + len, py); }
      ctx.moveTo(a.right, py); ctx.lineTo(a.right - len, py);
    }
    ctx.stroke();
    ctx.restore();
  }
};

// closed contour lines of the flat panels
const contourPlugin = {
  id: 'contour',
  beforeDatasetDraw(chart, args) {
    const ds = chart.data.datasets[args.index];
    if (!ds.contourColor) return;
    const ctx = chart.ctx;
    ctx.save();
    ctx.strokeStyle = ds.contourColor;
    ctx.lineWidth = ds.contourWidth;
    ctx.lineJoin = 'round';
    ctx.stroke(smoothPath(args.meta.data.map(e => ({x: e.x, y: e.y})), true));
    ctx.restore();
    return false;
  }
};

// shaded outlines of the 3D surfaces; widths are given in crop units
const CROP_UNIT = 1 / 3, GLOW_UNIT = 0.45, BLUR_UNIT = 0.8;
const surfacePlugin = {
  id: 'surface',
  beforeDatasetDraw(chart, args) {
    const ds = chart.data.datasets[args.index];
    if (!ds.layer) return;
    const l = ds.layer, ctx = chart.ctx;
    const p = args.meta.data.map(e => ({x: e.x, y: e.y}));
    const path = smoothPath(p, !l.line);
    if (l.base) chart.$rim = path;
    ctx.save();
    if (chart.$rim && !l.base && l.clip !== false) ctx.clip(chart.$rim);
    if (l.blur) ctx.filter = 'blur(' + l.blur * BLUR_UNIT + 'px)';
    if (l.line) {
      ctx.strokeStyle = l.line;
      ctx.lineWidth = l.w * (l.blur > 2 ? GLOW_UNIT : CROP_UNIT);
      ctx.lineCap = l.dash ? 'butt' : 'round';
      if (l.dash) ctx.setLineDash(l.dash.map(v => v * CROP_UNIT));
      ctx.stroke(path);
    } else {
      const ys = p.map(q => q.y);
      const g = ctx.createLinearGradient(0, Math.min(...ys), 0, Math.max(...ys));
      l.c.forEach((col, i) => g.addColorStop(l.c.length > 1 ? i / (l.c.length - 1) : 0, col));
      ctx.fillStyle = g;
      ctx.fill(path);
    }
    ctx.restore();
    return false;
  }
};

// ---------- flat panels ----------
const frameW = 775, frameH = 698.5, frameTop = 1118;
const noPad = s => { s.paddingTop = 0; s.paddingBottom = 0; s.paddingLeft = 0; s.paddingRight = 0; };
function planPanel(frameLeft, contours, guides, heads, headAngles) {
  const padL = 150, padT = 20, padR = 40, padB = 110;
  const canvas = mkCanvas(frameLeft - padL, frameTop - padT, padL + frameW + padR, padT + frameH + padB);
  const datasets = [];
  for (const g of guides) {
    datasets.push({data: asPoints(g), showLine: true, pointRadius: 0, borderColor: '#808080', borderWidth: 3.6, borderDash: [13, 5, 5, 5], order: 1});
  }
  datasets.push({data: asPoints(heads), showLine: false, pointStyle: 'triangle', pointRadius: 31, pointRotation: headAngles, backgroundColor: '#808080', borderWidth: 0, order: 0});
  contours.forEach(([line, level]) => {
    datasets.push({data: asPoints(line), showLine: false, pointRadius: 0, contourColor: levelColor(level), contourWidth: coreLines.includes(line) ? 4.8 : 3.8, order: 2});
  });
  if (contours === contoursE) {
    sparkLines.forEach(line => {
      datasets.push({data: asPoints(line), showLine: false, pointRadius: 0, contourColor: '#ffffff', contourWidth: line === eCore090 ? 5 : 2.5, order: 1.5});
    });
  }
  const label = v => v < 0 ? '\u2212' + (-v) : String(v);
  new Chart(canvas, {
    type: 'scatter',
    data: {datasets},
    options: {
      responsive: false, animation: false, events: [], devicePixelRatio: 1,
      layout: {autoPadding: false, padding: {top: padT, right: padR, left: 0, bottom: 0}},
      plugins: {legend: {display: false}, tooltip: {enabled: false}},
      scales: {
        x: {
          type: 'linear', min: planLimit[0], max: planLimit[1],
          afterBuildTicks: s => { s.ticks = planTicks.map(v => ({value: v})); },
          afterFit: s => { s.height = padB; noPad(s); },
          grid: {display: false}, border: {display: false},
          ticks: {font: {family: SERIF, size: 66}, color: '#111', padding: 14, maxRotation: 0, autoSkip: false, callback: label}
        },
        y: {
          type: 'linear', min: planLimit[0], max: planLimit[1],
          afterBuildTicks: s => { s.ticks = planTicks.map(v => ({value: v})); },
          afterFit: s => { s.width = padL; noPad(s); },
          grid: {display: false}, border: {display: false},
          ticks: {font: {family: SERIF, size: 66}, color: '#111', padding: 18, autoSkip: false, callback: label}
        }
      }
    },
    plugins: [framePlugin, contourPlugin]
  });
}
planPanel(270, contoursD, [dGuideH, dGuideD], dHeads, [90, -49]);
planPanel(1216.5, contoursE, [eGuideH, eGuideD], eHeads, [90, -45]);
planPanel(2157.5, contoursF, [fGuideH, fGuideD], fHeads, [90, -49]);

// ---------- colour bar ----------
(function () {
  const left = 2964, barW = 102, padL = 20, padT = 42, padR = 115, padB = 42;
  const canvas = mkCanvas(left - padL, frameTop - padT, padL + barW + padR, padT + frameH + padB);
  new Chart(canvas, {
    type: 'bar',
    data: {
      labels: [''],
      datasets: [{
        data: [barRange], barPercentage: 1, categoryPercentage: 1, borderWidth: 0,
        backgroundColor: c => {
          const a = c.chart.chartArea;
          if (!a) return parula[0];
          const g = c.chart.ctx.createLinearGradient(0, a.bottom, 0, a.top);
          parula.forEach((col, i) => g.addColorStop(i / (parula.length - 1), col));
          return g;
        }
      }]
    },
    options: {
      responsive: false, animation: false, events: [], devicePixelRatio: 1,
      layout: {autoPadding: false, padding: {top: padT, left: padL, right: 0, bottom: padB}},
      plugins: {legend: {display: false}, tooltip: {enabled: false}},
      scales: {
        x: {display: false},
        y: {
          position: 'right', min: barRange[0], max: barRange[1],
          afterBuildTicks: s => { s.ticks = barTicks.map(v => ({value: v})); },
          afterFit: s => { s.width = padR; noPad(s); },
          grid: {display: false}, border: {display: false},
          ticks: {font: {family: SERIF, size: 58}, color: '#111', padding: 7, autoSkip: false, callback: (v, i) => barLabels[i]}
        }
      }
    },
    plugins: [framePlugin]
  });
})();

// ---------- 3D panels ----------
const pyFactor = 1568 / 950;
const zBottom = -0.0577, zScale = 4070;
function boxPanel(cfg, layers) {
  const {left, width, origin, f, front, sideL, sideR, crop} = cfg;
  const canvas = mkCanvas(left, 0, width, 950);
  // picture-plane position of a point of the box
  const project = (x, y, z) => ({
    x: front[0] + (x + 12.5) / 25 * (sideR[0] - front[0]) + (y + 12.5) / 25 * (sideL[0] - front[0]),
    y: front[1] + (x + 12.5) / 25 * (sideR[1] - front[1]) + (y + 12.5) / 25 * (sideL[1] - front[1]) - (z - zBottom) * zScale
  });
  const seg = (a, b, color, w) => ({data: [a, b], showLine: true, pointRadius: 0, borderColor: color, borderWidth: w, borderCapStyle: 'round'});
  const grid = [];
  const GRID = '#d9d9d9', AXIS = '#333';
  const zTop = boxTicksZ[boxTicksZ.length - 1];
  for (const z of boxTicksZ) {
    grid.push(seg(project(-12.5, 12.5, z), project(12.5, 12.5, z), GRID, 3));
    grid.push(seg(project(12.5, 12.5, z), project(12.5, -12.5, z), GRID, 3));
  }
  for (const t of boxTicksXY) {
    grid.push(seg(project(t, 12.5, zBottom), project(t, 12.5, zTop), GRID, 3));
    grid.push(seg(project(12.5, t, zBottom), project(12.5, t, zTop), GRID, 3));
    grid.push(seg(project(t, -12.5, zBottom), project(t, 12.5, zBottom), GRID, 3));
    grid.push(seg(project(-12.5, t, zBottom), project(12.5, t, zBottom), GRID, 3));
  }
  const axes = [
    seg(project(-12.5, 12.5, zTop), project(-12.5, 12.5, zBottom), AXIS, 3.2),
    seg(project(-12.5, 12.5, zBottom), project(-12.5, -12.5, zBottom), AXIS, 3.2),
    seg(project(-12.5, -12.5, zBottom), project(12.5, -12.5, zBottom), AXIS, 3.2)
  ];
  for (const t of boxTicksXY) {
    axes.push(seg(project(t, -12.5, zBottom), project(t, -13.1, zBottom), AXIS, 3));
    axes.push(seg(project(-12.5, t, zBottom), project(-13.1, t, zBottom), AXIS, 3));
  }
  for (const z of boxTicksZ) axes.push(seg(project(-12.5, 12.5, z), project(-13.1, 12.5, z), AXIS, 3));
  const surf = layers.map(l => ({data: asPoints(l.pts), showLine: false, pointRadius: 0, layer: l, xAxisID: 'sx', yAxisID: 'sy'}));
  const all = grid.concat(surf, axes);
  all.forEach((d, i) => { d.order = all.length - i; });

  const tickText = {
    id: 'tickText',
    afterDraw(chart) {
      const {ctx, scales: {x: sx, y: sy}} = chart;
      const px = p => ({x: sx.getPixelForValue(p.x), y: sy.getPixelForValue(p.y)});
      ctx.save();
      ctx.fillStyle = '#111';
      ctx.font = '67px ' + SERIF;
      ctx.textBaseline = 'middle';
      ctx.textAlign = 'right';
      boxTicksZ.forEach((z, i) => {
        const q = px(project(-12.5, 12.5, z));
        ctx.fillText(boxZLabels[i], q.x - 29, q.y - 12);
      });
      boxTicksXY.forEach((t, i) => {
        const q = px(project(-12.5, t, zBottom));
        ctx.fillText(boxXYLabels[i], q.x - 33, q.y + 50);
      });
      ctx.textAlign = 'center';
      const dxLabel = [69, 49, 66];
      boxTicksXY.forEach((t, i) => {
        const q = px(project(t, -12.5, zBottom));
        ctx.fillText(boxXYLabels[i], q.x + dxLabel[i], q.y + 57);
      });
      ctx.restore();
    }
  };
  new Chart(canvas, {
    type: 'scatter',
    data: {datasets: all},
    options: {
      responsive: false, animation: false, events: [], devicePixelRatio: 1,
      layout: {autoPadding: false, padding: 0},
      plugins: {legend: {display: false}, tooltip: {enabled: false}},
      scales: {
        x: {type: 'linear', display: false, min: (left - origin) * f, max: (left + width - origin) * f},
        y: {type: 'linear', display: false, reverse: true, min: 0, max: 950 * pyFactor},
        sx: {type: 'linear', axis: 'x', display: false, min: (left - crop.x) * crop.kx, max: (left + width - crop.x) * crop.kx},
        sy: {type: 'linear', axis: 'y', display: false, reverse: true, min: -crop.y * crop.ky, max: (950 - crop.y) * crop.ky}
      }
    },
    plugins: [surfacePlugin, tickText]
  });
}
boxPanel({left: 0, width: 1150, origin: 0, f: 1568 / 1100, front: [868, 1320], sideL: [390, 1028], sideR: [1495, 1095], crop: {x: 370, y: 380, kx: 1568 / 580, ky: 3}}, layersA);
boxPanel({left: 1000, width: 1100, origin: 1050, f: 1.568, front: [788, 1320], sideL: [260, 1028], sideR: [1477, 1095], crop: {x: 1380, y: 380, kx: 3, ky: 3}}, layersB);
boxPanel({left: 1950, width: 1100, origin: 2000, f: 1.568, front: [775, 1320], sideL: [247, 1028], sideR: [1465, 1095], crop: {x: 2260, y: 350, kx: 1568 / 580, ky: 3}}, layersC);

// ---------- text ----------
const eta = '<i>\u03b7</i><sup>(1)</sup>&nbsp;(m)';
const unitX = '<i>x</i>&nbsp;(m)', unitY = '<i>y</i>&nbsp;(m)';
const panelTags = [['a', 63, 45], ['b', 1139, 45], ['c', 2080, 45], ['d', 67, 1062], ['e', 1136, 1062], ['f', 2087, 1062]];
panelTags.forEach(([k, x, y]) => addText('(<i>' + k + '</i>)', x, y, 76));
const timeTitles = [['\u22124.0', 705], ['0', 1643], ['4.0', 2617]];
timeTitles.forEach(([v, x]) => addText('<i>t\u0302</i><span style="margin:0 20px">=</span>' + v, x, 45, 72));
[656, 1602, 2542].forEach(x => {
  addText(eta, x, 1061, 66);
  addText(unitX, x, 1967, 80);
});
addText(unitY, 98, 1471, 76, -90);
addText(eta, 46, 425, 78, -90);
addText(unitY, 281, 874, 80);
[967, 1909, 2851].forEach(x => addText(unitX, x, 874, 80));
</script>
</body>
</html>
